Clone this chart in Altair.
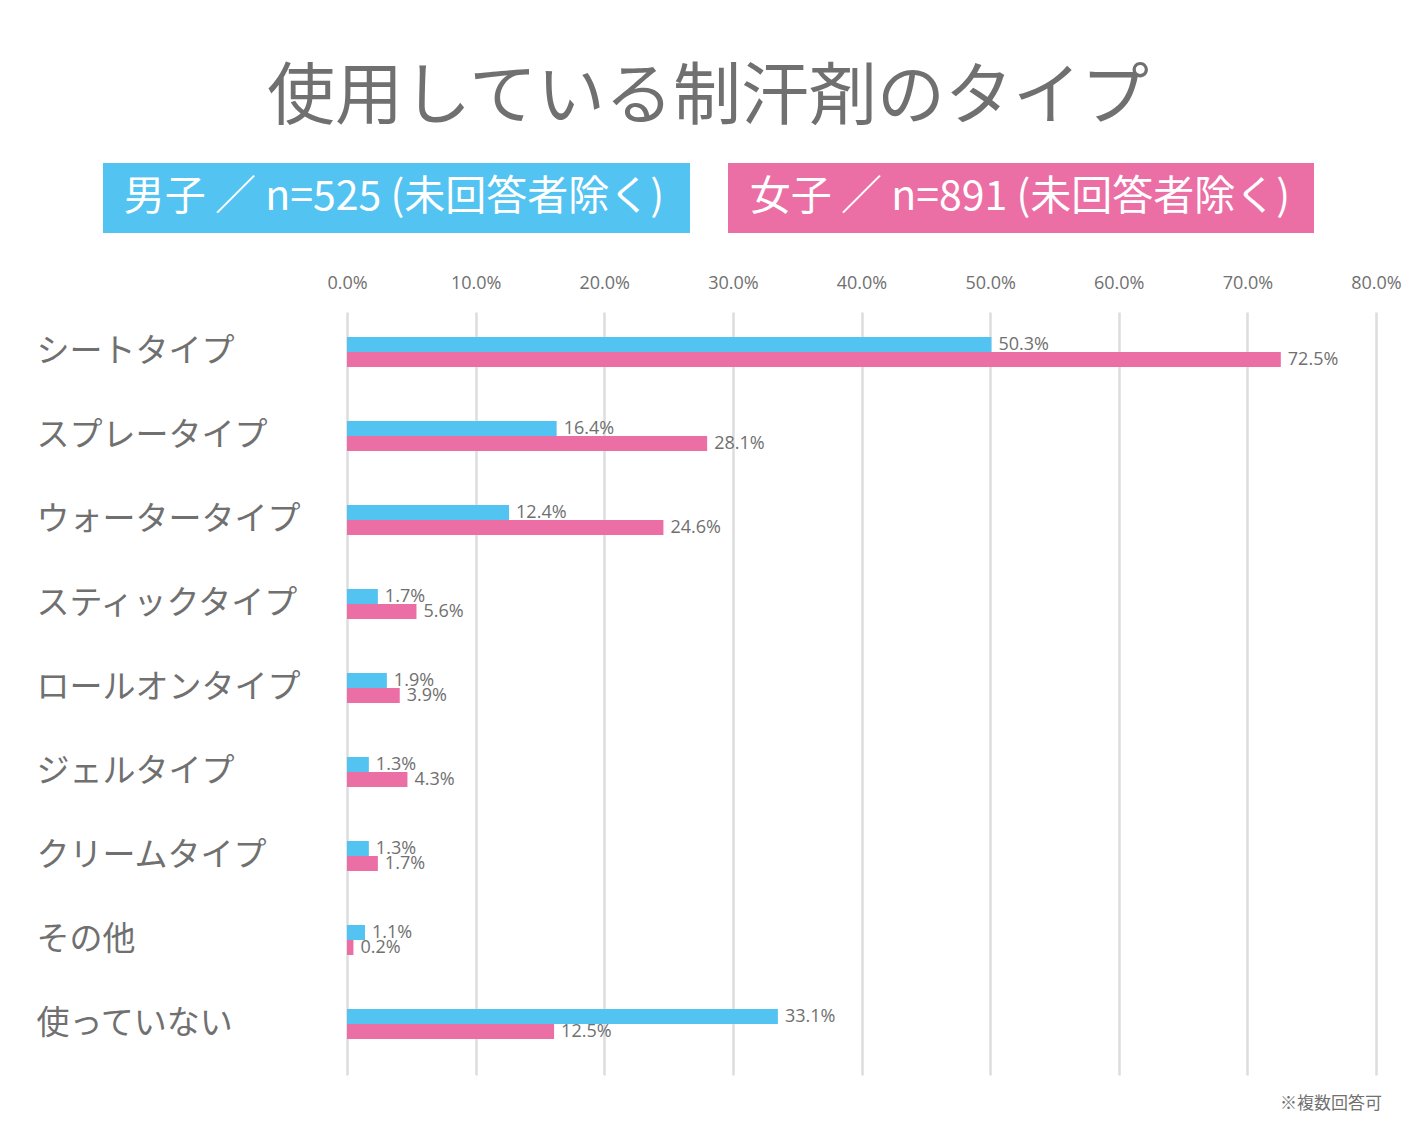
import altair as alt
import pandas as pd

categories = ["シートタイプ", "スプレータイプ", "ウォータータイプ", "スティックタイプ",
              "ロールオンタイプ", "ジェルタイプ", "クリームタイプ", "その他", "使っていない"]
# bar lengths as drawn in the picture (%)
male_bar = [50.1, 16.3, 12.6, 2.4, 3.1, 1.7, 1.7, 1.4, 33.5]
female_bar = [72.6, 28.0, 24.6, 5.4, 4.1, 4.7, 2.4, 0.5, 16.1]
# value labels as printed
male_label = ["50.3%", "16.4%", "12.4%", "1.7%", "1.9%", "1.3%", "1.3%", "1.1%", "33.1%"]
female_label = ["72.5%", "28.1%", "24.6%", "5.6%", "3.9%", "4.3%", "1.7%", "0.2%", "12.5%"]
groups = ["男子", "女子"]
group_colors = ["#53C3F1", "#EB6EA5"]
legend_texts = ["男子 ／ n=525 (未回答者除く)", "女子 ／ n=891 (未回答者除く)"]
title_text = "使用している制汗剤のタイプ"
note_text = "※複数回答可"
x_ticks = [0, 10, 20, 30, 40, 50, 60, 70, 80]

GRAY = "#707070"
JP = "Noto Sans CJK JP"
NUM = "Open Sans"

rows = []
for c, m, f, ml, fl in zip(categories, male_bar, female_bar, male_label, female_label):
    rows.append({"category": c, "gender": groups[0], "value": m, "label": ml})
    rows.append({"category": c, "gender": groups[1], "value": f, "label": fl})
df = pd.DataFrame(rows)

y_enc = alt.Y("category:N", sort=categories,
              scale=alt.Scale(paddingInner=0.6429, paddingOuter=0.363, align=0.41),
              axis=alt.Axis(title=None, labelAlign="left", labelPadding=311, labelFontSize=33,
                            labelFont=JP, labelColor=GRAY, ticks=False, tickSize=0,
                            domain=False, labelLimit=400, grid=False, labelBaseline="middle"))
x_enc = alt.X("value:Q", scale=alt.Scale(domain=[0, 80], nice=False),
              axis=alt.Axis(orient="top", title=None, values=x_ticks,
                            labelExpr="format(datum.value, '.1f') + '%'",
                            labelFontSize=18, labelFont=NUM, labelColor=GRAY, labelFlush=False,
                            labelPadding=20, ticks=False, tickSize=0, domain=False,
                            grid=True, gridColor="#dddddd", gridWidth=2.5))
yoff = alt.YOffset("gender:N", sort=groups, scale=alt.Scale(paddingInner=0, paddingOuter=0))
color = alt.Color("gender:N", scale=alt.Scale(domain=groups, range=group_colors), legend=None)

base = alt.Chart(df)
bars = base.mark_bar().encode(y=y_enc, x=x_enc, yOffset=yoff, color=color)
labels = base.mark_text(align="left", baseline="middle", dx=7, fontSize=18, font=NUM,
                        color=GRAY).encode(y=alt.Y("category:N", sort=categories),
                                           x="value:Q", yOffset=yoff, text="label:N")

one = pd.DataFrame({"t": [title_text]})
title = alt.Chart(one).mark_text(fontSize=68, font=JP, color=GRAY, align="center",
                                 baseline="middle").encode(
    x=alt.value(361), y=alt.value(-213), text="t:N")

leg_m_rect = alt.Chart(one).mark_rect(color=group_colors[0]).encode(
    x=alt.value(-244), x2=alt.value(343), y=alt.value(-149), y2=alt.value(-79))
leg_f_rect = alt.Chart(one).mark_rect(color=group_colors[1]).encode(
    x=alt.value(381), x2=alt.value(967), y=alt.value(-149), y2=alt.value(-79))
leg_m_text = alt.Chart(pd.DataFrame({"t": [legend_texts[0]]})).mark_text(
    fontSize=41, font=JP, color="white", align="center", baseline="middle").encode(
    x=alt.value(47), y=alt.value(-114), text="t:N")
leg_f_text = alt.Chart(pd.DataFrame({"t": [legend_texts[1]]})).mark_text(
    fontSize=41, font=JP, color="white", align="center", baseline="middle").encode(
    x=alt.value(673), y=alt.value(-114), text="t:N")
note = alt.Chart(pd.DataFrame({"t": [note_text]})).mark_text(
    fontSize=17, font=JP, color=GRAY, align="right", baseline="middle").encode(
    x=alt.value(1035), y=alt.value(792), text="t:N")

chart = alt.layer(bars, labels, title, leg_m_rect, leg_f_rect, leg_m_text, leg_f_text, note).properties(
    width=1029, height=763,
    autosize=alt.AutoSizeParams(type="none"),
    padding={"left": 339, "top": 304, "right": 30, "bottom": 45},
).configure_view(stroke=None)

chart.save("out.html", embed_options={"renderer": "svg", "actions": False})
